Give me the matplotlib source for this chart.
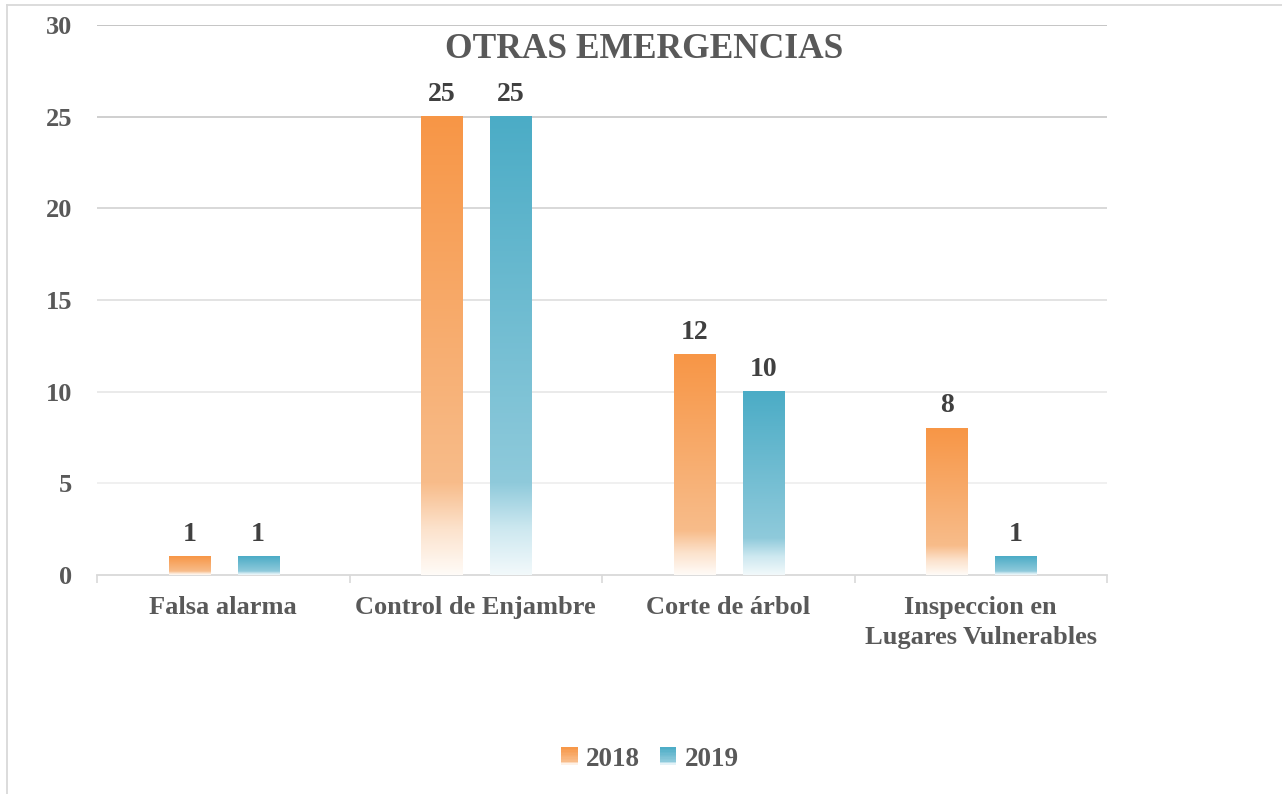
import numpy as np
import matplotlib
matplotlib.use("Agg")
import matplotlib.pyplot as plt
from matplotlib.colors import LinearSegmentedColormap
from matplotlib.legend_handler import HandlerBase
from matplotlib.patches import Rectangle
from matplotlib.lines import Line2D

categories = ["Falsa alarma", "Control de Enjambre", "Corte de árbol",
              "Inspeccion en\nLugares Vulnerables"]
series_names = ["2018", "2019"]
values_2018 = [1, 25, 12, 8]
values_2019 = [1, 25, 10, 1]
y_ticks = [0, 5, 10, 15, 20, 25, 30]
title = "OTRAS EMERGENCIAS"

FONT = ["Liberation Serif", "DejaVu Serif"]
TXT = "#595959"
LBL = "#404040"

cmap_orange = LinearSegmentedColormap.from_list(
    "o", [(0.0, "#FFFBF7"), (0.10, "#FCE2CC"), (0.2, "#F8BC8A"), (1.0, "#F79646")])
cmap_blue = LinearSegmentedColormap.from_list(
    "b", [(0.0, "#F2F9FB"), (0.10, "#CDE8F0"), (0.2, "#8FCADB"), (1.0, "#4BACC6")])
cmaps = [cmap_orange, cmap_blue]

W, H = 1282, 794
fig = plt.figure(figsize=(W / 100, H / 100), dpi=100)
ax = fig.add_axes([97 / W, 1 - 575 / H, (1107 - 97) / W, (575 - 25) / H])

x = np.arange(len(categories))
width = 0.163
offsets = [-0.134, 0.138]
grad = np.linspace(0, 1, 256).reshape(-1, 1)

for vals, off, cm in zip([values_2018, values_2019], offsets, cmaps):
    bars = ax.bar(x + off, vals, width, facecolor="none", edgecolor="none", zorder=3)
    for b, v in zip(bars, vals):
        x0, w, h = b.get_x(), b.get_width(), b.get_height()
        ax.imshow(grad, cmap=cm, origin="lower", aspect="auto",
                  extent=[x0, x0 + w, 0, h], interpolation="bilinear", zorder=3)
        ax.annotate(str(v), (x0 + w / 2, h), xytext=(0, 11.5), textcoords="offset points",
                    ha="center", va="baseline", fontsize=20, fontweight="bold",
                    color=LBL, family=FONT, zorder=4)

ax.set_xlim(-0.5, len(categories) - 0.5)
ax.set_ylim(0, 30)
ax.set_yticks(y_ticks)
ax.set_yticklabels([str(t) for t in y_ticks], fontsize=19, fontweight="bold",
                   color=TXT, family=FONT)
ax.tick_params(axis="y", length=0, pad=18)

ax.set_xticks(x)
ax.set_xticklabels(categories, fontsize=19, fontweight="bold", color=TXT,
                   family=FONT, linespacing=1.42)
ax.tick_params(axis="x", which="major", length=0, pad=15)
ax.set_xticks(np.arange(-0.5, len(categories), 1.0), minor=True)
ax.tick_params(axis="x", which="minor", length=6, width=1.2, color="#d9d9d9",
               direction="out")

for s in ["top", "right", "left"]:
    ax.spines[s].set_visible(False)
ax.spines["bottom"].set_color("#d9d9d9")
ax.spines["bottom"].set_linewidth(1.3)

grid_colors = {5: "#efefef", 10: "#e8e8e8", 15: "#e0e0e0", 20: "#d6d6d6",
               25: "#cbcbcb", 30: "#c0c0c0"}
for t, c in grid_colors.items():
    ax.axhline(t, color=c, lw=1.3, zorder=1)

ax.set_facecolor("none")

# title
fig.text(644 / W, 1 - 49 / H, title, ha="center", va="center", fontsize=25.5,
         fontweight="bold", color=TXT, family=FONT)

# chart border (left & top visible)
fig.add_artist(Line2D([7 / W, 7 / W], [0, 1 - 5 / H], transform=fig.transFigure,
                      color="#d9d9d9", lw=1.3))
fig.add_artist(Line2D([7 / W, 1], [1 - 5 / H, 1 - 5 / H], transform=fig.transFigure,
                      color="#d9d9d9", lw=1.3))


class GradHandler(HandlerBase):
    def __init__(self, cmap):
        super().__init__()
        self.cmap = cmap

    def create_artists(self, legend, orig_handle, xdescent, ydescent, width, height,
                       fontsize, trans):
        n = 12
        arts = []
        for i in range(n):
            r = Rectangle((-xdescent, -ydescent + height * i / n), width, height / n + 0.3,
                          facecolor=self.cmap((i + 0.5) / n), edgecolor="none",
                          transform=trans)
            arts.append(r)
        return arts


h1 = Rectangle((0, 0), 1, 1)
h2 = Rectangle((0, 0), 1, 1)
leg = fig.legend([h1, h2], series_names, loc="center", bbox_to_anchor=(650 / W, 1 - 759 / H),
                 ncol=2, frameon=False, handlelength=0.6, handleheight=0.6,
                 handletextpad=0.3, columnspacing=0.75,
                 handler_map={h1: GradHandler(cmap_orange), h2: GradHandler(cmap_blue)},
                 prop={"family": FONT, "weight": "bold", "size": 19.5})
for t in leg.get_texts():
    t.set_color(TXT)

fig.savefig("out.png", dpi=100)
